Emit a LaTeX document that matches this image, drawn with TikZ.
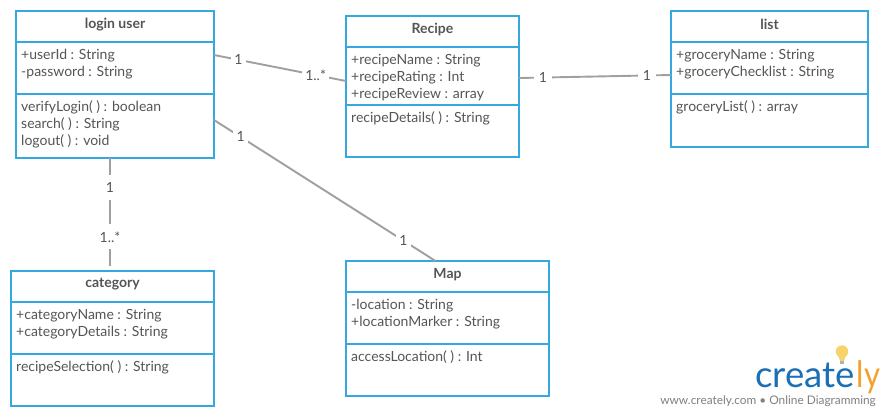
\documentclass[tikz,border=0pt]{standalone}
\usepackage{fontspec}
\setmainfont{Lato}
\usetikzlibrary{calc}
\definecolor{boxblue}{HTML}{35A8E0}
\definecolor{txt}{HTML}{555555}
\definecolor{conn}{HTML}{A0A0A0}
\definecolor{logoblue}{HTML}{1B6FB5}
\definecolor{logoorange}{HTML}{F5A02C}
\definecolor{bulb}{HTML}{F7D36B}
\tikzset{
  x=1pt,y=-1pt,
  part/.style={draw=boxblue,line width=1.7pt,fill=white,inner sep=0pt,outer sep=0pt,anchor=north west},
  title/.style={font=\fontsize{14}{16}\selectfont\bfseries,text=txt,anchor=center,inner sep=0pt},
  members/.style={font=\fontsize{14}{17}\selectfont,text=txt,anchor=north west,align=left,inner sep=0pt},
  link/.style={draw=conn,line width=1.9pt},
  mult/.style={font=\fontsize{14}{16}\selectfont,text=txt,fill=white,inner xsep=3.5pt,inner ysep=0pt,minimum height=25pt,anchor=center},
}
\newcommand{\classbox}[9]{%
  % name, x, ytop, w, h1, h2, h3, title, attrs
  \node[part,minimum width=#4pt,minimum height=#5pt] (#1T) at (#2,#3) {};
  \node[part,minimum width=#4pt,minimum height=#6pt] (#1A) at (#1T.south west) {};
  \node[part,minimum width=#4pt,minimum height=#7pt] (#1M) at (#1A.south west) {};
  \node[title] (#1N) at ($(#1T.center)+(0,-2)$) {#8};
  \node[members] (#1a) at ($(#1A.north west)+(5,6.7)$) {#9};
}
\begin{document}
\begin{tikzpicture}
\useasboundingbox (0,0) rectangle (890,416);
\fill[white] (0,0) rectangle (890,416);

\classbox{login}{16}{11}{198}{31}{52}{64}{login user}{+userId : String\\-password : String}
\node[members] (loginm) at ($(loginM.north west)+(5,6.7)$) {verifyLogin( ) : boolean\\search( ) : String\\logout( ) : void};

\classbox{recipe}{346}{16}{173}{31}{58}{52}{Recipe}{+recipeName : String\\+recipeRating : Int\\+recipeReview : array}
\node[members] (recipem) at ($(recipeM.north west)+(5,6.7)$) {recipeDetails( ) : String};

\classbox{list}{671}{11}{197}{31}{52}{53}{list}{+groceryName : String\\+groceryChecklist : String}
\node[members] (listm) at ($(listM.north west)+(5,6.7)$) {groceryList( ) : array};

\classbox{category}{11}{271}{203}{31}{52}{52}{category}{+categoryName : String\\+categoryDetails : String}
\node[members] (categorym) at ($(categoryM.north west)+(5,6.7)$) {recipeSelection( ) : String};

\classbox{map}{346}{261}{203}{31}{52}{52}{Map}{-location : String\\+locationMarker : String}
\node[members] (mapm) at ($(mapM.north west)+(5,6.7)$) {accessLocation( ) : Int};

% connectors
\draw[link] ([yshift=13pt]loginA.east) -- ([yshift=-5pt]recipeA.west)
  node[mult,pos=0.185,minimum height=14pt] (m1) {1} node[mult,pos=0.77,minimum height=14pt] (m2) {1..*};
\draw[link] ([yshift=-2pt]recipeA.east) -- ([yshift=-7pt,xshift=0pt]listA.west)
  node[mult,pos=0.158,minimum height=14pt,inner xsep=5pt] (m3) {1} node[mult,pos=0.842,minimum height=14pt,inner xsep=5pt] (m4) {1};
\draw[link] ([yshift=6pt]loginM.east) -- ([xshift=-12pt]mapT.north)
  node[mult,pos=0.12,minimum height=16pt] (m5) {1} node[mult,pos=0.855,minimum height=16pt] (m6) {1};
\coordinate (catTop) at ([xshift=-2.5pt,yshift=5pt]categoryT.north);
\draw[link] ([xshift=-5pt]loginM.south) -- (catTop)
  node[mult,pos=0.27] (m7) {1} node[mult,pos=0.73] (m8) {1..*};

% logo
\fill[bulb] (842,351.5) circle (6.2);
\fill[bulb] (838,355) -- (846,355) -- (844,361) -- (840,361) -- cycle;
\fill[gray!60] (840,361.3) rectangle (844,364);
\node[inner sep=0pt,anchor=base west,font=\fontsize{36.5}{40}\selectfont,text=logoblue] (logoa) at (755,387) {create};
\node[inner sep=0pt,anchor=base west,font=\fontsize{36.5}{40}\selectfont,text=logoorange,transform shape,xscale=0.85] (logob) at ([xshift=2pt]logoa.base east) {ly};
\node[inner sep=0pt,anchor=base east,font=\fontsize{11.85}{13}\selectfont,text=gray] (logot) at (876,404) {www.creately.com • Online Diagramming};
\end{tikzpicture}
\end{document}
